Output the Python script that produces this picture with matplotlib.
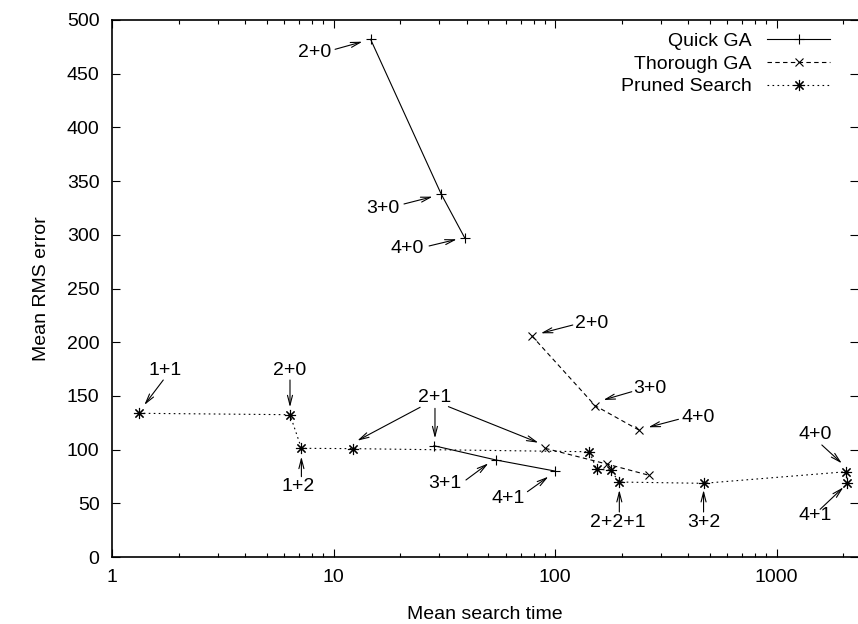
import numpy as np
import matplotlib
matplotlib.use("Agg")
import matplotlib.pyplot as plt
from matplotlib.ticker import LogLocator, NullFormatter

plt.rcParams['font.family'] = ['Liberation Sans', 'DejaVu Sans']

# Quick GA: two runs (n+0 models and n+1 models)
quick_t0 = [14.7, 30.6, 39.2]
quick_e0 = [482.0, 338.0, 296.7]
quick_t1 = [28.4, 54.2, 100.0]
quick_e1 = [103.6, 90.3, 80.0]

# Thorough GA
thor_t0 = [78.5, 151.6, 239.0]
thor_e0 = [206.0, 140.9, 118.2]
thor_t1 = [90.2, 171.0, 266.6]
thor_e1 = [101.2, 86.6, 76.0]

# Pruned search
pruned_t = [1.32, 6.36, 7.16, 12.2, 142.9, 154.0, 178.0, 195.0, 468.0, 2059.0, 2087.0]
pruned_e = [133.8, 132.5, 101.2, 100.9, 98.0, 81.6, 81.0, 69.8, 68.6, 79.4, 68.6]

# labels: text, text position, arrows (tail -> head)
notes = [
    ("2+0", (8.25, 469.6), [((10.16, 472.7), (13.5, 479.8))]),
    ("3+0", (16.7, 324.7), [((20.8, 328.7), (28.0, 335.5))]),
    ("4+0", (21.5, 287.4), [((27.0, 289.6), (36.0, 295.8))]),
    ("2+1", (28.7, 148.7), [((24.6, 139.4), (12.8, 108.3)),
                            ((28.7, 138.4), (28.7, 110.5)),
                            ((33.0, 140.0), (84.1, 106.4))]),
    ("3+1", (31.9, 68.0), [((39.6, 71.7), (50.0, 87.2))]),
    ("4+1", (61.5, 54.6), [((75.0, 60.8), (93.3, 74.8))]),
    ("2+0", (146.4, 217.0), [((120.2, 216.0), (86.2, 208.3))]),
    ("3+0", (268.5, 157.0), [((221.9, 153.9), (165.2, 146.2))]),
    ("4+0", (443.6, 130.0), [((360.5, 128.2), (263.8, 120.8))]),
    ("1+1", (1.735, 174.0), [((1.704, 164.8), (1.399, 141.5))]),
    ("2+0", (6.36, 174.0), [((6.36, 164.8), (6.36, 139.4))]),
    ("1+2", (6.93, 65.2), [((7.16, 74.8), (7.16, 93.4))]),
    ("2+2+1", (192.5, 31.7), [((195.0, 41.9), (195.0, 62.4))]),
    ("3+2", (468.0, 31.7), [((468.0, 41.9), (468.0, 62.4))]),
    ("4+0", (1492.0, 113.6), [((1600.0, 104.3), (1970.0, 87.2))]),
    ("4+1", (1492.0, 39.1), [((1572.0, 44.4), (2002.0, 64.9))]),
]

fig = plt.figure(figsize=(8.58, 6.24), dpi=100)
ax = fig.add_axes([112/858, 1-557/624, 1-112/858, (557-20)/624])

star = (8, 2, 0)
lw = 0.8
ax.plot(quick_t0, quick_e0, '-', color='k', lw=lw, marker='+', ms=7, mew=0.8, label='Quick GA')
ax.plot(quick_t1, quick_e1, '-', color='k', lw=lw, marker='+', ms=7, mew=0.8)
ax.plot(thor_t0, thor_e0, color='k', lw=lw, ls=(0, (4, 3)), marker='x', ms=6, mew=0.8, label='Thorough GA')
ax.plot(thor_t1, thor_e1, color='k', lw=lw, ls=(0, (4, 3)), marker='x', ms=6, mew=0.8)
ax.plot(pruned_t, pruned_e, color='k', lw=lw, ls=(0, (1.5, 3)), marker=star, ms=8, mew=0.8, label='Pruned Search')

for txt, pos, arrows in notes:
    ax.text(pos[0], pos[1], txt, ha='center', va='center', fontsize=14)
    for tail, head in arrows:
        ax.annotate('', xy=head, xytext=tail,
                    arrowprops=dict(arrowstyle='->,head_length=0.7,head_width=0.18',
                                    color='k', lw=0.8, shrinkA=0, shrinkB=0))

ax.set_xscale('log')
ax.set_xlim(1, 2330)
ax.set_ylim(0, 500)
ax.set_xticks([1, 10, 100, 1000])
ax.set_xticklabels(['1', '10', '100', '1000'])
ax.xaxis.set_minor_locator(LogLocator(base=10, subs=np.arange(2, 10)))
ax.xaxis.set_minor_formatter(NullFormatter())
ax.set_yticks(np.arange(0, 501, 50))

ax.tick_params(which='both', direction='in', top=True, right=True, labelsize=14)
ax.tick_params(which='major', length=5.5, width=0.8)
ax.tick_params(which='minor', length=3, width=0.8)
ax.tick_params(axis='x', pad=9)
ax.tick_params(axis='y', pad=9)
ax.spines['right'].set_visible(False)
for s in ['left', 'bottom', 'top']:
    ax.spines[s].set_linewidth(1.2)

ax.set_xlabel('Mean search time', fontsize=14, labelpad=14)
ax.set_ylabel('Mean RMS error', fontsize=14, labelpad=12)

ax.legend(loc='upper right', frameon=False, markerfirst=False, fontsize=14,
          handlelength=3.2, handletextpad=0.8, labelspacing=0.26,
          borderpad=0, bbox_to_anchor=(0.975, 0.995))

fig.savefig('out.png', dpi=100)
